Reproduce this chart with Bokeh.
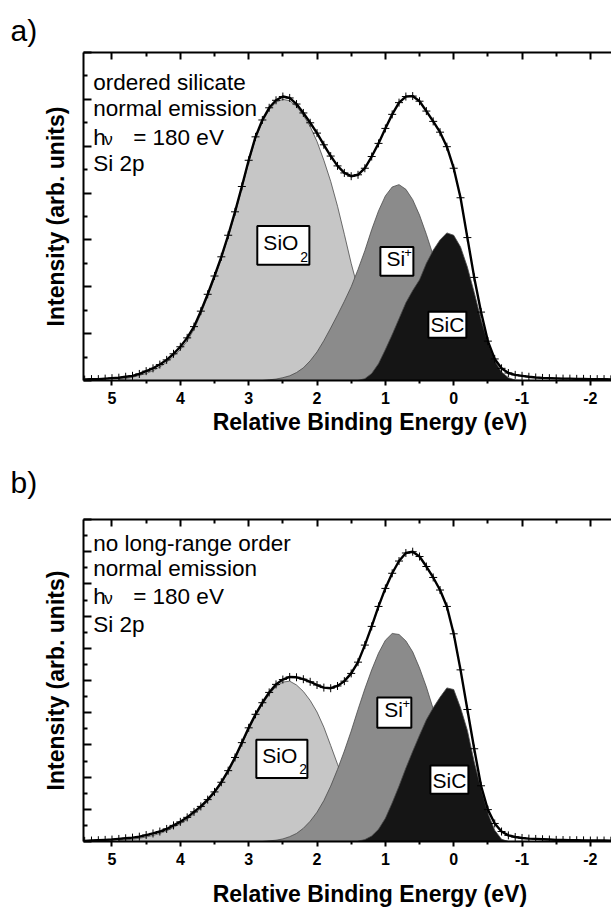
from bokeh.plotting import figure
from bokeh.models import Range1d, LinearAxis, FixedTicker
from bokeh.core.properties import value
from bokeh.layouts import column
from bokeh.embed import file_html
from bokeh.resources import INLINE

FONT = "Liberation Sans"

# ---------------- data ----------------
# x tick values / labels (relative binding energy, eV)
x_ticks = [5, 4, 3, 2, 1, 0, -1, -2]
x_tick_labels = ["5", "4", "3", "2", "1", "0", "-1", "-2"]
x_minor = [4.5, 3.5, 2.5, 1.5, 0.5, -0.5, -1.5]

# measured spectrum energies (eV)
env_E = [5.4, 5.3, 5.2, 5.1, 5.0, 4.9, 4.8, 4.7, 4.6, 4.5, 4.4, 4.3, 4.2, 4.1, 4.0,
         3.9, 3.8, 3.7, 3.6, 3.5, 3.4, 3.3, 3.2, 3.1, 3.0, 2.9, 2.8, 2.7, 2.6, 2.5,
         2.4, 2.3, 2.2, 2.1, 2.0, 1.9, 1.8, 1.7, 1.6, 1.5, 1.4, 1.3, 1.2, 1.1, 1.0,
         0.9, 0.8, 0.7, 0.6, 0.5, 0.4, 0.3, 0.2, 0.1, 0.0, -0.1, -0.2, -0.3, -0.4, -0.5,
         -0.6, -0.7, -0.8, -0.9, -1.0, -1.1, -1.2, -1.3, -1.4, -1.5, -1.6, -1.7, -1.8, -1.9, -2.0,
         -2.1, -2.2, -2.3]

# panel a) ordered silicate
env_a = [0.02, 0.03, 0.03, 0.04, 0.05, 0.06, 0.08, 0.10, 0.14, 0.20, 0.26, 0.34, 0.44, 0.57, 0.72,
         0.91, 1.15, 1.48, 1.84, 2.23, 2.64, 3.10, 3.60, 4.14, 4.70, 5.20, 5.56, 5.82, 5.98, 6.06,
         6.03, 5.90, 5.71, 5.50, 5.28, 5.03, 4.79, 4.58, 4.43, 4.36, 4.39, 4.53, 4.78, 5.06, 5.38,
         5.68, 5.93, 6.06, 6.07, 5.96, 5.75, 5.53, 5.30, 4.99, 4.53, 3.90, 3.05, 2.20, 1.46, 0.84,
         0.46, 0.26, 0.16, 0.12, 0.10, 0.08, 0.065, 0.055, 0.05, 0.045, 0.04, 0.04, 0.035, 0.035, 0.03,
         0.03, 0.03, 0.025]

sio2_a_E = [4.9, 4.8, 4.7, 4.6, 4.5, 4.4, 4.3, 4.2, 4.1, 4.0,
            3.9, 3.8, 3.7, 3.6, 3.5, 3.4, 3.3, 3.2, 3.1, 3.0,
            2.9, 2.8, 2.7, 2.6, 2.5, 2.4, 2.3, 2.2, 2.1, 2.0,
            1.9, 1.8, 1.7, 1.6, 1.5, 1.4, 1.3, 1.2, 1.1, 1.0,
            0.9, 0.8, 0.7, 0.6, 0.5, 0.4]
sio2_a = [0.02, 0.04, 0.07, 0.11, 0.15, 0.21, 0.29, 0.39, 0.52, 0.66,
          0.84, 1.09, 1.42, 1.80, 2.19, 2.60, 3.06, 3.56, 4.10, 4.66,
          5.16, 5.52, 5.78, 5.94, 6.00, 5.97, 5.85, 5.66, 5.42, 5.10,
          4.70, 4.25, 3.72, 3.12, 2.50, 1.95, 1.45, 1.05, 0.73, 0.48,
          0.30, 0.18, 0.10, 0.05, 0.02, 0.0]

sip_a_E = [2.8, 2.7, 2.6, 2.5, 2.4, 2.3, 2.2, 2.1, 2.0, 1.9,
           1.8, 1.7, 1.6, 1.5, 1.4, 1.3, 1.2, 1.1, 1.0, 0.9,
           0.8, 0.7, 0.6, 0.5, 0.4, 0.3, 0.2, 0.1, 0.0, -0.1,
           -0.2, -0.3, -0.4, -0.5, -0.6, -0.7, -0.8, -0.9]
sip_a = [0.0, 0.015, 0.03, 0.06, 0.10, 0.17, 0.27, 0.42, 0.61, 0.85,
         1.12, 1.40, 1.69, 2.00, 2.37, 2.77, 3.22, 3.62, 3.94, 4.13,
         4.18, 4.08, 3.86, 3.53, 3.12, 2.67, 2.21, 1.78, 1.38, 1.03,
         0.75, 0.53, 0.36, 0.23, 0.14, 0.08, 0.03, 0.005]

sic_a_E = [1.4, 1.3, 1.2, 1.1, 1.0, 0.9, 0.8, 0.7, 0.6, 0.5,
           0.4, 0.3, 0.2, 0.1, 0.0, -0.1, -0.2, -0.3, -0.4, -0.5,
           -0.6, -0.7, -0.8, -0.9, -1.0]
sic_a = [0.0, 0.04, 0.15, 0.36, 0.66, 0.98, 1.32, 1.66, 1.92, 2.15,
         2.50, 2.78, 3.00, 3.15, 3.10, 2.85, 2.42, 1.88, 1.30, 0.80,
         0.42, 0.18, 0.06, 0.01, 0.0]

# panel b) no long-range order
env_b = [0.02, 0.03, 0.04, 0.05, 0.06, 0.08, 0.10, 0.12, 0.15, 0.20, 0.25, 0.31, 0.39, 0.50, 0.61,
         0.75, 0.92, 1.09, 1.30, 1.54, 1.84, 2.20, 2.61, 3.07, 3.53, 3.95, 4.31, 4.63, 4.88, 5.03,
         5.11, 5.10, 5.04, 4.96, 4.86, 4.78, 4.76, 4.83, 4.98, 5.22, 5.57, 6.10, 6.68, 7.30, 7.86,
         8.33, 8.71, 8.96, 9.00, 8.85, 8.54, 8.20, 7.81, 7.30, 6.45, 5.33, 4.10, 2.88, 1.73, 0.99,
         0.56, 0.31, 0.19, 0.14, 0.11, 0.09, 0.08, 0.07, 0.06, 0.05, 0.045, 0.04, 0.04, 0.035, 0.03,
         0.03, 0.03, 0.025]

sio2_b_E = [4.9, 4.8, 4.7, 4.6, 4.5, 4.4, 4.3, 4.2, 4.1, 4.0,
            3.9, 3.8, 3.7, 3.6, 3.5, 3.4, 3.3, 3.2, 3.1, 3.0,
            2.9, 2.8, 2.7, 2.6, 2.5, 2.4, 2.3, 2.2, 2.1, 2.0,
            1.9, 1.8, 1.7, 1.6, 1.5, 1.4, 1.3, 1.2, 1.1, 1.0,
            0.9, 0.8, 0.7, 0.6]
sio2_b = [0.03, 0.05, 0.07, 0.10, 0.14, 0.19, 0.25, 0.33, 0.44, 0.55,
          0.69, 0.86, 1.03, 1.25, 1.50, 1.79, 2.15, 2.56, 3.02, 3.48,
          3.90, 4.26, 4.57, 4.81, 4.95, 4.98, 4.86, 4.66, 4.38, 4.02,
          3.55, 2.98, 2.40, 1.85, 1.38, 0.98, 0.66, 0.42, 0.25, 0.14,
          0.07, 0.03, 0.01, 0.0]

sip_b_E = [2.8, 2.7, 2.6, 2.5, 2.4, 2.3, 2.2, 2.1, 2.0, 1.9,
           1.8, 1.7, 1.6, 1.5, 1.4, 1.3, 1.2, 1.1, 1.0, 0.9,
           0.8, 0.7, 0.6, 0.5, 0.4, 0.3, 0.2, 0.1, 0.0, -0.1,
           -0.2, -0.3, -0.4, -0.5, -0.6, -0.7, -0.8]
sip_b = [0.0, 0.02, 0.04, 0.08, 0.15, 0.25, 0.41, 0.63, 0.91, 1.27,
         1.72, 2.24, 2.81, 3.43, 4.10, 4.74, 5.33, 5.85, 6.25, 6.46,
         6.43, 6.23, 5.89, 5.39, 4.80, 4.12, 3.47, 2.84, 2.26, 1.75,
         1.32, 0.97, 0.66, 0.40, 0.22, 0.05, 0.0]

sic_b_E = [1.4, 1.3, 1.2, 1.1, 1.0, 0.9, 0.8, 0.7, 0.6, 0.5,
           0.4, 0.3, 0.2, 0.1, 0.0, -0.1, -0.2, -0.3, -0.4, -0.5,
           -0.6, -0.7, -0.8]
sic_b = [0.01, 0.06, 0.17, 0.38, 0.72, 1.20, 1.72, 2.28, 2.80, 3.30,
         3.78, 4.15, 4.48, 4.77, 4.72, 4.15, 3.45, 2.47, 1.64, 0.88,
         0.35, 0.07, 0.0]

info_a = ["ordered silicate", "normal emission", "= 180 eV", "Si 2p"]
info_b = ["no long-range order", "normal emission", "= 180 eV", "Si 2p"]

X_TITLE = "Relative Binding Energy (eV)"
Y_TITLE = "Intensity (arb. units)"

SIO2_COLOR = "#c6c6c6"
SIP_COLOR = "#8b8b8b"
SIC_COLOR = "#151515"

X_START, X_END = 5.417, -2.309


def txt(p, x, y, s, size_px, align="left"):
    p.text(x=[x], y=[y], text=[s], text_font=value(FONT), text_font_size=f"{size_px}px",
           text_align=align, text_baseline="alphabetic", text_color="black",
           y_offset=-round(0.37 * size_px))


def make_panel(tag, env, sio2E, sio2, sipE, sip, sicE, sic, ymax, info, height,
               top_border, bottom_border, cfg):
    p = figure(width=611, height=height, x_range=Range1d(X_START, X_END),
               y_range=Range1d(0, ymax), output_backend="svg", toolbar_location=None,
               min_border_left=83, min_border_right=0, min_border_top=top_border,
               min_border_bottom=bottom_border, title=tag)
    p.grid.visible = False
    p.outline_line_color = None
    p.background_fill_color = "white"

    p.title.text_font = FONT
    p.title.text_font_size = "30px"
    p.title.text_font_style = "normal"
    p.title.text_color = "black"
    p.title.align = "left"
    p.title.offset = -73
    p.title.standoff = cfg["title_stand"]

    # components
    for E, v, col in ((sio2E, sio2, SIO2_COLOR), (sipE, sip, SIP_COLOR), (sicE, sic, SIC_COLOR)):
        p.varea(x=E, y1=0, y2=v, fill_color=col)
        p.line(E, v, line_color="#4a4a4a", line_width=0.8)

    # measured data + fit envelope
    p.line(env_E, env, line_color="black", line_width=2.4)
    p.scatter(env_E, env, marker="cross", size=8, line_color="black", line_width=1)

    # bottom axis
    xa = p.xaxis[0]
    xa.ticker = FixedTicker(ticks=x_ticks, minor_ticks=x_minor)
    xa.major_label_overrides = {t: s for t, s in zip(x_ticks, x_tick_labels)}
    xa.axis_line_width = 2
    xa.major_tick_line_width = 2
    xa.minor_tick_line_width = 2
    xa.major_tick_out = 5
    xa.major_tick_in = 0
    xa.minor_tick_out = 3
    xa.minor_tick_in = 0
    xa.major_label_text_font = FONT
    xa.major_label_text_font_size = "16px"
    xa.major_label_text_font_style = "bold"
    xa.major_label_text_color = "black"
    xa.major_label_standoff = 6
    xa.axis_label = "\u00a0" * 7 + X_TITLE
    xa.axis_label_text_font = FONT
    xa.axis_label_text_font_size = "23px"
    xa.axis_label_text_font_style = "bold"
    xa.axis_label_text_color = "black"
    xa.axis_label_standoff = cfg["xt_stand"]

    # top axis (ticks only)
    ta = LinearAxis(ticker=FixedTicker(ticks=x_ticks, minor_ticks=x_minor),
                    major_label_overrides={t: "" for t in x_ticks},
                    axis_line_width=2, major_tick_line_width=2, minor_tick_line_width=2,
                    major_tick_in=7, major_tick_out=0, minor_tick_in=4, minor_tick_out=0,
                    major_label_standoff=0, axis_label_standoff=0)
    p.add_layout(ta, "above")

    # left axis (ticks only) with title
    ya = p.yaxis[0]
    yt = list(range(0, ymax + 1))
    ya.ticker = FixedTicker(ticks=yt, minor_ticks=[t + 0.5 for t in yt[:-1]])
    ya.major_label_overrides = {t: "" for t in yt}
    ya.major_label_standoff = 0
    ya.axis_line_width = 2
    ya.major_tick_line_width = 2
    ya.minor_tick_line_width = 2
    ya.major_tick_in = 8
    ya.major_tick_out = 0
    ya.minor_tick_in = 4
    ya.minor_tick_out = 0
    ya.axis_label = Y_TITLE
    ya.axis_label_text_font = FONT
    ya.axis_label_text_font_size = "23px"
    ya.axis_label_text_font_style = "bold"
    ya.axis_label_text_color = "black"
    ya.axis_label_standoff = 15

    # info block
    xs = 5.275
    txt(p, xs, cfg["lines"][0], info[0], 22.5)
    txt(p, xs, cfg["lines"][1], info[1], 22.5)
    txt(p, xs, cfg["lines"][2], "h", 22.5)
    txt(p, 5.115, cfg["lines"][2], "\u03bd", 17)
    txt(p, 4.69, cfg["lines"][2], info[2], 22.5)
    txt(p, xs, cfg["lines"][3], info[3], 22.5)

    # component labels in boxes
    for key in ("sio2", "sip", "sic"):
        l, r, b, t = cfg[key + "_box"]
        p.quad(left=[l], right=[r], bottom=[b], top=[t], fill_color="white",
               line_color="black", line_width=2)
    x0, y0, x1, y1 = cfg["sio2_txt"]
    txt(p, x0, y0, "SiO", 21)
    txt(p, x1, y1, "2", 14)
    x0, y0, x1, y1 = cfg["sip_txt"]
    txt(p, x0, y0, "Si", 21)
    txt(p, x1, y1, "+", 13)
    x0, y0 = cfg["sic_txt"]
    txt(p, x0, y0, "SiC", 21, align="center")
    return p


cfg_a = dict(title_stand=12, xt_stand=2,
             lines=[6.18, 5.63, 5.02, 4.45],
             sio2_box=(2.874, 2.112, 2.468, 3.298), sip_box=(1.073, 0.59, 2.234, 2.85),
             sic_box=(0.371, -0.185, 0.915, 1.468),
             sio2_txt=(2.785, 2.766, 2.245, 2.53), sip_txt=(0.985, 2.426, 0.722, 2.617),
             sic_txt=(0.092, 1.021))
cfg_b = dict(title_stand=42, xt_stand=13,
             lines=[9.02, 8.23, 7.35, 6.49],
             sio2_box=(2.888, 2.141, 1.97, 3.16), sip_box=(1.118, 0.62, 3.53, 4.47),
             sic_box=(0.341, -0.215, 1.48, 2.36),
             sio2_txt=(2.8, 2.41, 2.26, 2.10), sip_txt=(1.015, 3.84, 0.75, 4.12),
             sic_txt=(0.063, 1.65))

pa = make_panel("a)", env_a, sio2_a_E, sio2_a, sip_a_E, sip_a, sic_a_E, sic_a, 7, info_a,
                440, 52, 60, cfg_a)
pb = make_panel("b)", env_b, sio2_b_E, sio2_b, sip_b_E, sip_b, sic_b_E, sic_b, 10, info_b,
                469, 79, 62, cfg_b)

layout = column(pa, pb, spacing=0)
open("out.html", "w").write(file_html(layout, INLINE))
